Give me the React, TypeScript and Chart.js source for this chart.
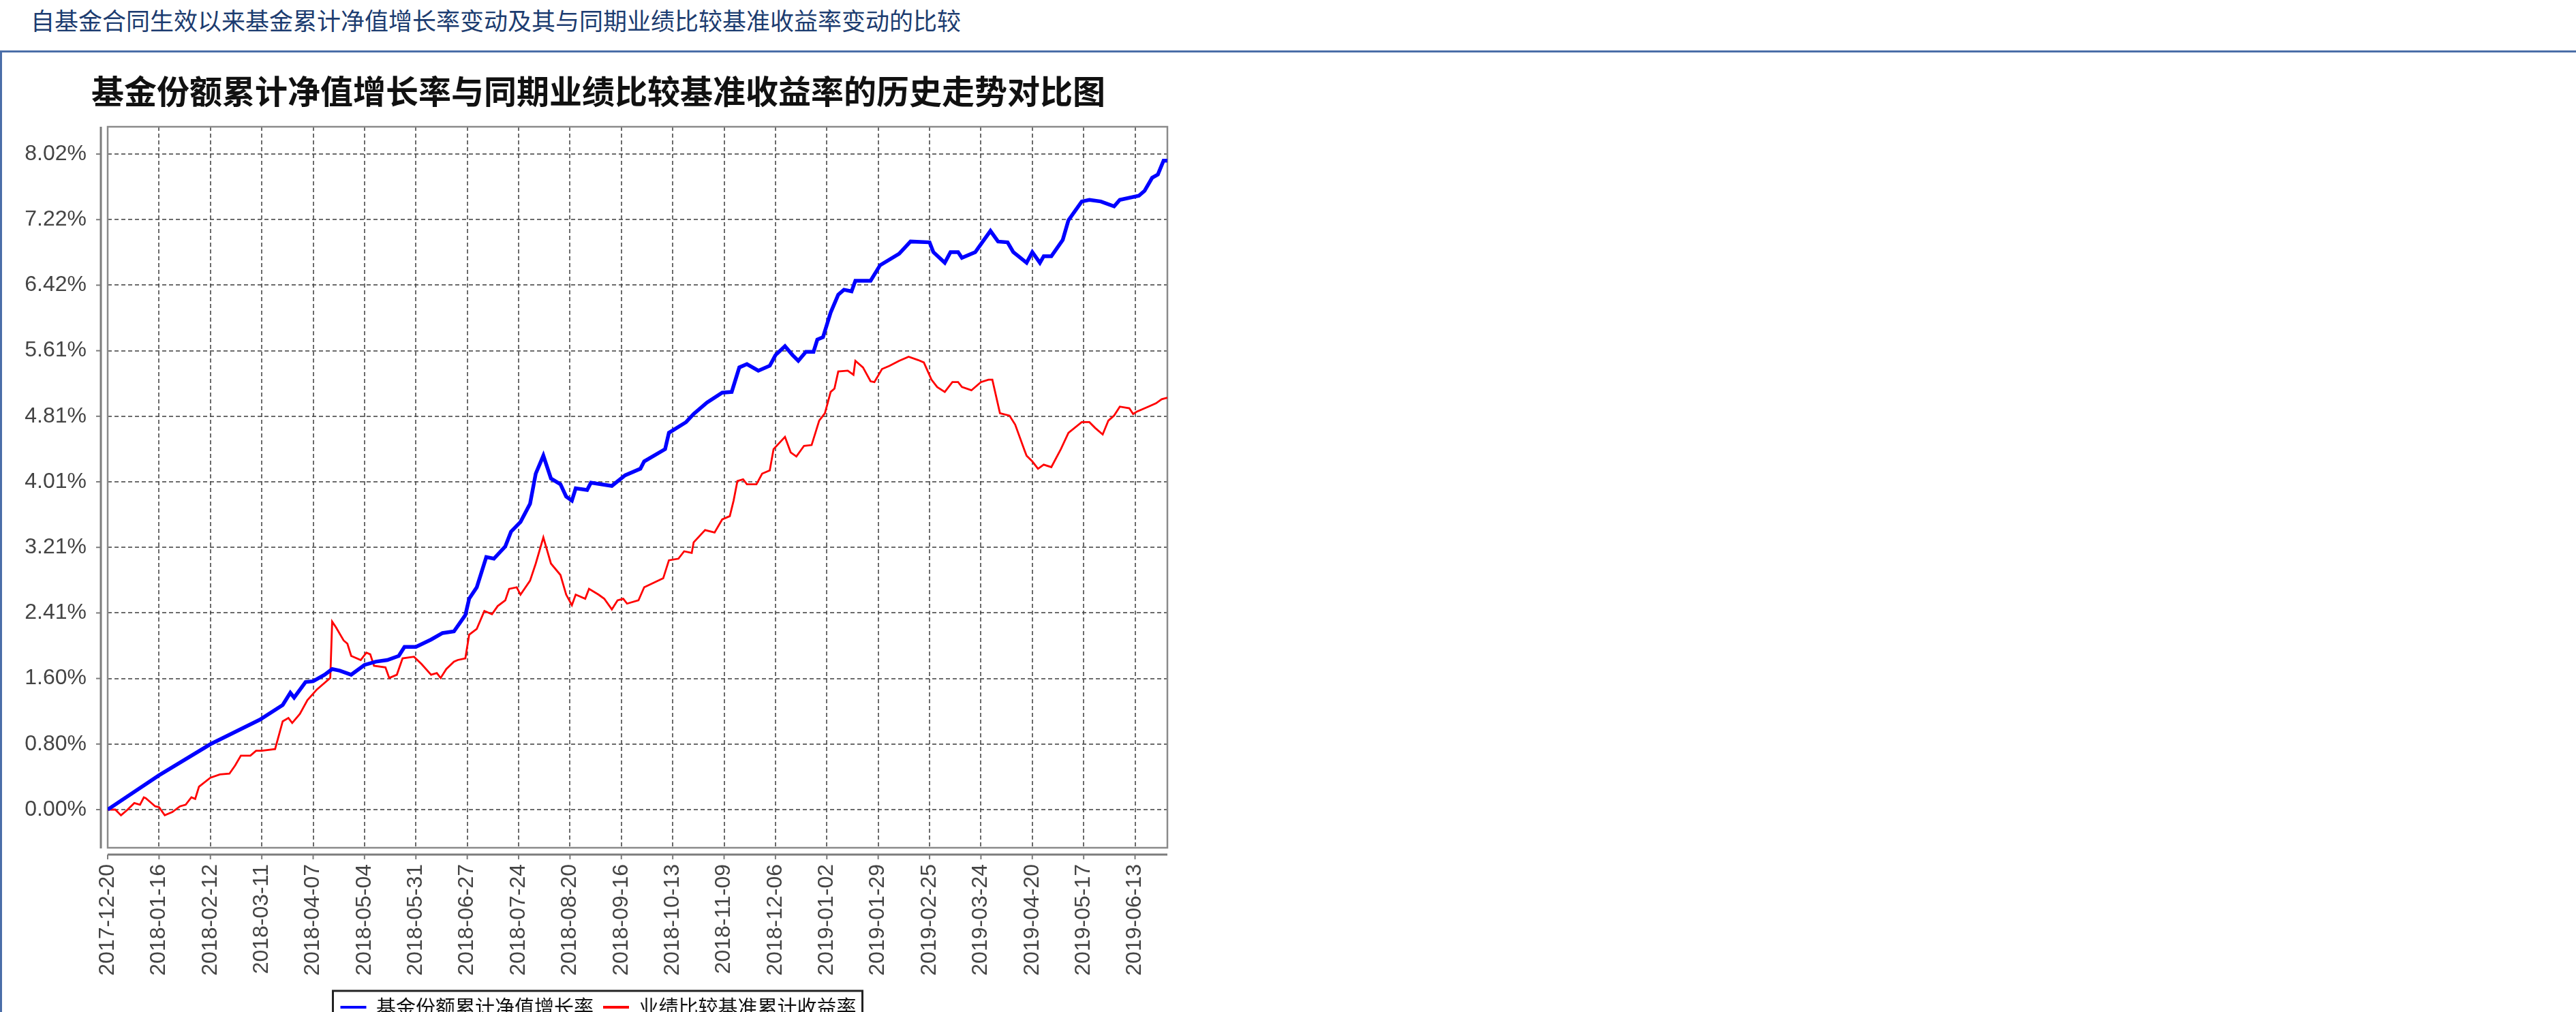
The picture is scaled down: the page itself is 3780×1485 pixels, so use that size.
import React, { useEffect, useRef } from 'react';
import { Chart, registerables } from 'chart.js';

Chart.register(...registerables);

const pageHeading = '自基金合同生效以来基金累计净值增长率变动及其与同期业绩比较基准收益率变动的比较';
const chartTitle = '基金份额累计净值增长率与同期业绩比较基准收益率的历史走势对比图';
const fundLabel = '基金份额累计净值增长率';
const benchLabel = '业绩比较基准累计收益率';

const START_DATE = '2017-12-20';
const END_DATE = '2019-06-30';

const xTickLabels = [
  '2017-12-20', '2018-01-16', '2018-02-12', '2018-03-11', '2018-04-07', '2018-05-04',
  '2018-05-31', '2018-06-27', '2018-07-24', '2018-08-20', '2018-09-16', '2018-10-13',
  '2018-11-09', '2018-12-06', '2019-01-02', '2019-01-29', '2019-02-25', '2019-03-24',
  '2019-04-20', '2019-05-17', '2019-06-13',
];

const yTickValues = [0, 0.802, 1.604, 2.406, 3.208, 4.01, 4.812, 5.614, 6.416, 7.218, 8.02];
const yTickLabels = ['0.00%', '0.80%', '1.60%', '2.41%', '3.21%', '4.01%', '4.81%', '5.61%', '6.42%', '7.22%', '8.02%'];
const yMin = -0.467;
const yMax = 8.354;

// days since START_DATE
const fundDays = [
  0, 27, 54, 80, 92, 96, 98, 104, 108, 114, 118, 122, 128, 135, 141, 147, 153, 156, 162, 170,
  176, 182, 188, 190, 194, 199, 203, 209, 212, 217, 222, 225, 229, 233, 238, 241, 244, 246, 252, 254,
  265, 272, 280, 282, 293, 295, 304, 308, 315, 323, 328, 332, 336, 342, 348, 351, 356, 360, 363, 367,
  371, 373, 376, 380, 384, 387, 391, 393, 401, 406, 416, 422, 432, 434, 440, 443, 447, 449, 456, 460,
  464, 468, 473, 476, 483, 486, 490, 492, 496, 502, 505, 512, 516, 522, 529, 532, 542, 545, 549, 552,
  555, 557,
];
const fundValues = [
  0.00, 0.42, 0.80, 1.10, 1.28, 1.43, 1.37, 1.56, 1.57, 1.65, 1.72, 1.70, 1.65, 1.77, 1.81, 1.83, 1.88, 1.99, 1.99, 2.08,
  2.16, 2.18, 2.38, 2.58, 2.72, 3.09, 3.07, 3.22, 3.40, 3.52, 3.74, 4.11, 4.33, 4.05, 3.98, 3.83, 3.78, 3.93, 3.91, 4.00,
  3.96, 4.09, 4.17, 4.26, 4.41, 4.61, 4.74, 4.84, 4.98, 5.10, 5.11, 5.41, 5.45, 5.37, 5.43, 5.56, 5.67, 5.56, 5.49, 5.60,
  5.60, 5.75, 5.78, 6.08, 6.30, 6.36, 6.34, 6.47, 6.47, 6.66, 6.80, 6.95, 6.94, 6.82, 6.69, 6.82, 6.82, 6.75, 6.82, 6.95,
  7.08, 6.95, 6.94, 6.82, 6.69, 6.82, 6.69, 6.77, 6.77, 6.97, 7.21, 7.44, 7.46, 7.44, 7.38, 7.46, 7.51, 7.57, 7.73, 7.77,
  7.94, 7.94,
];

const benchDays = [
  0, 4, 7, 10, 14, 17, 19, 20, 22, 25, 27, 30, 34, 38, 41, 44, 46, 48, 54, 59,
  64, 67, 70, 75, 78, 81, 88, 92, 95, 97, 101, 105, 110, 117, 118, 120, 124, 126, 128, 133,
  136, 138, 140, 146, 148, 152, 155, 161, 165, 170, 173, 175, 178, 182, 184, 188, 190, 194, 198, 202,
  205, 209, 211, 215, 217, 222, 225, 229, 233, 238, 241, 244, 246, 251, 253, 258, 261, 265, 268, 271,
  273, 279, 282, 292, 295, 300, 303, 307, 308, 314, 319, 323, 327, 329, 331, 334, 336, 341, 344, 348,
  350, 356, 359, 362, 366, 370, 372, 374, 377, 380, 382, 384, 389, 392, 393, 397, 401, 403, 407, 411,
  416, 421, 426, 429, 433, 436, 440, 444, 447, 449, 454, 459, 463, 465, 469, 474, 477, 482, 483, 486,
  489, 492, 496, 501, 505, 512, 516, 519, 523, 526, 529, 532, 537, 539, 541, 547, 551, 554, 557,
];
const benchValues = [
  0.00, 0.00, -0.07, -0.01, 0.08, 0.06, 0.15, 0.14, 0.10, 0.04, 0.03, -0.07, -0.03, 0.04, 0.06, 0.15, 0.13, 0.28, 0.39, 0.43,
  0.44, 0.54, 0.66, 0.66, 0.72, 0.72, 0.74, 1.08, 1.12, 1.06, 1.17, 1.34, 1.47, 1.61, 2.30, 2.23, 2.07, 2.03, 1.88, 1.83,
  1.92, 1.90, 1.76, 1.74, 1.61, 1.65, 1.85, 1.87, 1.78, 1.65, 1.67, 1.61, 1.72, 1.81, 1.83, 1.85, 2.14, 2.21, 2.43, 2.39,
  2.49, 2.56, 2.70, 2.72, 2.63, 2.80, 3.01, 3.33, 3.01, 2.87, 2.63, 2.50, 2.63, 2.58, 2.70, 2.63, 2.58, 2.45, 2.56, 2.58,
  2.52, 2.56, 2.72, 2.83, 3.05, 3.07, 3.16, 3.14, 3.27, 3.42, 3.39, 3.55, 3.59, 3.78, 4.02, 4.04, 3.98, 3.98, 4.11, 4.15,
  4.41, 4.56, 4.37, 4.32, 4.45, 4.46, 4.61, 4.76, 4.85, 5.11, 5.15, 5.36, 5.37, 5.32, 5.49, 5.41, 5.24, 5.23, 5.39, 5.43,
  5.49, 5.54, 5.50, 5.47, 5.26, 5.17, 5.11, 5.23, 5.23, 5.17, 5.13, 5.23, 5.26, 5.26, 4.85, 4.82, 4.71, 4.39, 4.33, 4.26,
  4.17, 4.22, 4.19, 4.41, 4.61, 4.74, 4.74, 4.67, 4.59, 4.76, 4.82, 4.93, 4.91, 4.84, 4.87, 4.93, 4.97, 5.02, 5.04,
];

const DAY_MS = 86400000;
const daysFromStart = (d: string) => Math.round((Date.parse(d) - Date.parse(START_DATE)) / DAY_MS);
const xTickValues = xTickLabels.map(daysFromStart);
const xMax = daysFromStart(END_DATE);

const CJK = '"Noto Sans CJK SC", "Noto Sans", sans-serif';
const LATIN = '"Liberation Sans", Arial, sans-serif';

const framePlugin = {
  id: 'frameAxes',
  beforeDatasetsDraw(chart: any) {
    const { ctx, chartArea: a, scales } = chart;
    const ax = a.left - 10;
    const ay = a.bottom + 10;
    ctx.save();
    ctx.strokeStyle = '#7c7c7c';
    ctx.lineWidth = 3;
    ctx.beginPath();
    ctx.moveTo(ax, a.top);
    ctx.lineTo(ax, a.bottom + 1);
    ctx.stroke();
    ctx.beginPath();
    ctx.moveTo(a.left, ay);
    ctx.lineTo(a.right, ay);
    ctx.stroke();
    ctx.lineWidth = 2;
    scales.y.ticks.forEach((t: any) => {
      const p = scales.y.getPixelForValue(t.value);
      ctx.beginPath();
      ctx.moveTo(ax - 7, p);
      ctx.lineTo(ax, p);
      ctx.stroke();
    });
    scales.x.ticks.forEach((t: any) => {
      const p = scales.x.getPixelForValue(t.value);
      ctx.beginPath();
      ctx.moveTo(p, ay);
      ctx.lineTo(p, ay + 7);
      ctx.stroke();
    });
    ctx.strokeStyle = '#8a8a8a';
    ctx.lineWidth = 2.5;
    ctx.strokeRect(a.left, a.top, a.right - a.left, a.bottom - a.top);
    ctx.restore();
  },
};

const legendFramePlugin = {
  id: 'legendFrame',
  afterDraw(chart: any) {
    const lg = chart.legend;
    const hb = lg && lg.legendHitBoxes;
    if (!hb || !hb.length) return;
    const first = hb[0];
    const last = hb[hb.length - 1];
    const left = first.left - 11;
    const right = last.left + last.width + 9;
    const cy = first.top + first.height / 2;
    const ctx = chart.ctx;
    ctx.save();
    ctx.strokeStyle = '#222';
    ctx.lineWidth = 3;
    ctx.strokeRect(left, cy - 24, right - left, 50);
    ctx.restore();
  },
};

function TrendChart() {
  const ref = useRef<HTMLCanvasElement | null>(null);
  useEffect(() => {
    const canvas = ref.current;
    if (!canvas) return;
    const chart = new Chart(canvas, {
      type: 'line',
      data: {
        datasets: [
          {
            label: fundLabel,
            data: fundDays.map((d, i) => ({ x: d, y: fundValues[i] })),
            borderColor: '#0000ff',
            backgroundColor: '#0000ff',
            borderWidth: 5.5,
            pointRadius: 0,
            tension: 0,
            fill: false,
          },
          {
            label: benchLabel,
            data: benchDays.map((d, i) => ({ x: d, y: benchValues[i] })),
            borderColor: '#ff0000',
            backgroundColor: '#ff0000',
            borderWidth: 2.8,
            pointRadius: 0,
            tension: 0,
            fill: false,
          },
        ],
      },
      options: {
        responsive: false,
        animation: false,
        devicePixelRatio: 1,
        layout: { padding: { left: 0, right: 0, top: 0, bottom: 7.5 } },
        plugins: {
          title: {
            display: true,
            text: chartTitle,
            color: '#111',
            font: { size: 48, weight: 'bold', family: CJK, lineHeight: 1.2 },
            padding: { top: 25.2, bottom: 23.2 },
          },
          legend: {
            display: true,
            position: 'bottom',
            align: 'center',
            labels: {
              color: '#111',
              font: { size: 29, family: CJK },
              boxWidth: 38,
              boxHeight: 4,
              padding: 14,
              generateLabels: (ch: any) =>
                ch.data.datasets.map((ds: any, i: number) => ({
                  text: ds.label,
                  fillStyle: ds.borderColor,
                  strokeStyle: ds.borderColor,
                  lineWidth: 0,
                  hidden: false,
                  datasetIndex: i,
                  fontColor: '#111',
                })),
            },
          },
          tooltip: { enabled: false },
        },
        scales: {
          x: {
            type: 'linear',
            position: 'bottom',
            min: 0,
            max: xMax,
            afterBuildTicks: (s: any) => {
              s.ticks = xTickValues.map((v) => ({ value: v }));
            },
            afterFit: (s: any) => {
              s.height = 205.5;
            },
            ticks: {
              autoSkip: false,
              maxRotation: 90,
              minRotation: 90,
              padding: 24,
              color: '#444',
              font: { size: 32, family: LATIN },
              callback: (_v: any, i: number) => xTickLabels[i],
            },
            grid: {
              display: true,
              drawTicks: false,
              color: 'rgba(70,70,70,0.8)',
              lineWidth: 2,
            },
            border: { display: false, dash: [6, 4] },
          },
          y: {
            type: 'linear',
            position: 'left',
            min: yMin,
            max: yMax,
            afterBuildTicks: (s: any) => {
              s.ticks = yTickValues.map((v) => ({ value: v }));
            },
            afterFit: (s: any) => {
              s.width = 148;
            },
            ticks: {
              padding: 31,
              color: '#444',
              font: { size: 32, family: LATIN },
              callback: (_v: any, i: number) => yTickLabels[i],
            },
            grid: {
              display: true,
              drawTicks: false,
              color: 'rgba(70,70,70,0.8)',
              lineWidth: 2,
            },
            border: { display: false, dash: [6, 4] },
          },
          yRightSpace: {
            type: 'linear',
            axis: 'y',
            position: 'right',
            display: true,
            ticks: { display: false },
            grid: { display: false, drawTicks: false },
            border: { display: false },
            afterFit: (s: any) => {
              s.width = 33;
            },
          },
        },
      } as any,
      plugins: [framePlugin, legendFramePlugin],
    });
    return () => chart.destroy();
  }, []);
  return (
    <canvas
      ref={ref}
      width={1736}
      height={1430}
      style={{ position: 'absolute', left: 10, top: 80, width: 1736, height: 1430 }}
    />
  );
}

export default function App() {
  useEffect(() => {
    document.body.style.margin = '0';
  }, []);
  return (
    <div
      style={{
        position: 'relative',
        width: 3780,
        height: 1485,
        overflow: 'hidden',
        background: '#ffffff',
      }}
    >
      <div
        style={{
          position: 'absolute',
          left: 45,
          top: 11,
          fontFamily: CJK,
          fontSize: 35,
          lineHeight: '35px',
          color: '#1c3c70',
          whiteSpace: 'nowrap',
        }}
      >
        {pageHeading}
      </div>
      <div
        style={{
          position: 'absolute',
          left: 0,
          top: 74,
          width: 3800,
          height: 1500,
          borderTop: '3px solid #4b6ea8',
          borderLeft: '3px solid #4b6ea8',
          boxSizing: 'border-box',
        }}
      />
      <TrendChart />
    </div>
  );
}
